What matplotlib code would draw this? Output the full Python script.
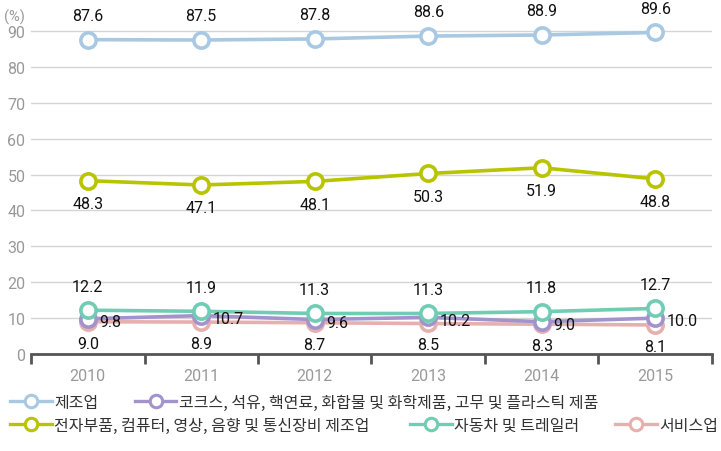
import numpy as np
import matplotlib
matplotlib.use('Agg')
from matplotlib import pyplot as plt
from matplotlib.lines import Line2D

years = ['2010', '2011', '2012', '2013', '2014', '2015']
manufacturing = [87.6, 87.5, 87.8, 88.6, 88.9, 89.6]
chemicals = [9.8, 10.7, 9.6, 10.2, 9.0, 10.0]
electronics = [48.3, 47.1, 48.1, 50.3, 51.9, 48.8]
automobiles = [12.2, 11.9, 11.3, 11.3, 11.8, 12.7]
services = [9.0, 8.9, 8.7, 8.5, 8.3, 8.1]

names = ['제조업', '코크스, 석유, 핵연료, 화합물 및 화학제품, 고무 및 플라스틱 제품',
         '전자부품, 컴퓨터, 영상, 음향 및 통신장비 제조업', '자동차 및 트레일러', '서비스업']
colors = ['#a9c9e3', '#a393cc', '#b8c400', '#70cdb4', '#e6b0ae']

num_font = ['Liberation Sans Narrow', 'Roboto', 'DejaVu Sans']
kr_font = ['Noto Sans CJK KR', 'DejaVu Sans']

fig = plt.figure(figsize=(7.21, 4.52), dpi=100)
ax = fig.add_axes([0.043, 0.2146, 0.9445, 0.7304])

x = np.arange(len(years))
series = [manufacturing, chemicals, electronics, automobiles, services]
# draw order: services at back, then chemicals, autos, electronics, manufacturing
order = [4, 1, 3, 2, 0]
for i in order:
    ax.plot(x, series[i], color=colors[i], lw=2.6, marker='o', ms=11,
            mfc='white', mec=colors[i], mew=2.6, zorder=3 + order.index(i),
            clip_on=False)

# data labels
offsets = {0: (0, 12, 'center', 'bottom'), 2: (0, -11, 'center', 'top'),
           3: (0, 12, 'center', 'bottom'), 4: (0, -10, 'center', 'top'),
           1: (8, -2, 'left', 'center')}
for i, vals in enumerate(series):
    dx, dy, ha, va = offsets[i]
    for xi, v in zip(x, vals):
        ax.annotate('%.1f' % v, (xi, v), xytext=(dx, dy), textcoords='offset points',
                    ha=ha, va=va, fontsize=11.5, family=num_font, color='#111111',
                    zorder=10)

ax.set_xlim(-0.5, 5.5)
ax.set_ylim(0, 92)
ax.set_yticks(np.arange(0, 100, 10))
ax.set_yticklabels([str(v) for v in range(0, 100, 10)], family=num_font,
                   fontsize=11.5, color='#999999')
for v in range(10, 100, 10):
    ax.axhline(v, color='#d4d4d4', lw=1, zorder=1)

ax.set_xticks(x)
ax.set_xticklabels(years, family=num_font, fontsize=11.5, color='#999999')
ax.set_xticks(np.arange(-0.5, 6, 1), minor=True)
ax.tick_params(axis='x', which='major', length=0, pad=10)
ax.tick_params(axis='x', which='minor', length=7, width=2, color='#555555', direction='out')
ax.tick_params(axis='y', length=0, pad=4)

for s in ['top', 'right', 'left']:
    ax.spines[s].set_visible(False)
ax.spines['bottom'].set_color('#555555')
ax.spines['bottom'].set_linewidth(2)

fig.text(0.006, 0.962, '(%)', family=num_font, fontsize=10.5, color='#999999', va='center')

# legend
handles = [Line2D([0], [0], color=colors[i], lw=2.4, marker='o', ms=9, mfc='white',
                  mec=colors[i], mew=2.2) for i in range(5)]
leg_pos = [(0.014, 0.108), (0.187, 0.108), (0.014, 0.057), (0.569, 0.057), (0.853, 0.057)]
for i in range(5):
    lg = fig.legend([handles[i]], [names[i]], loc='center left',
                    bbox_to_anchor=leg_pos[i], frameon=False, handlelength=2.6,
                    handletextpad=0.15, borderaxespad=0, borderpad=0,
                    prop={'family': kr_font, 'size': 11.5})
    for t in lg.get_texts():
        t.set_color('#333333')

plt.savefig('out.png', dpi=100)
